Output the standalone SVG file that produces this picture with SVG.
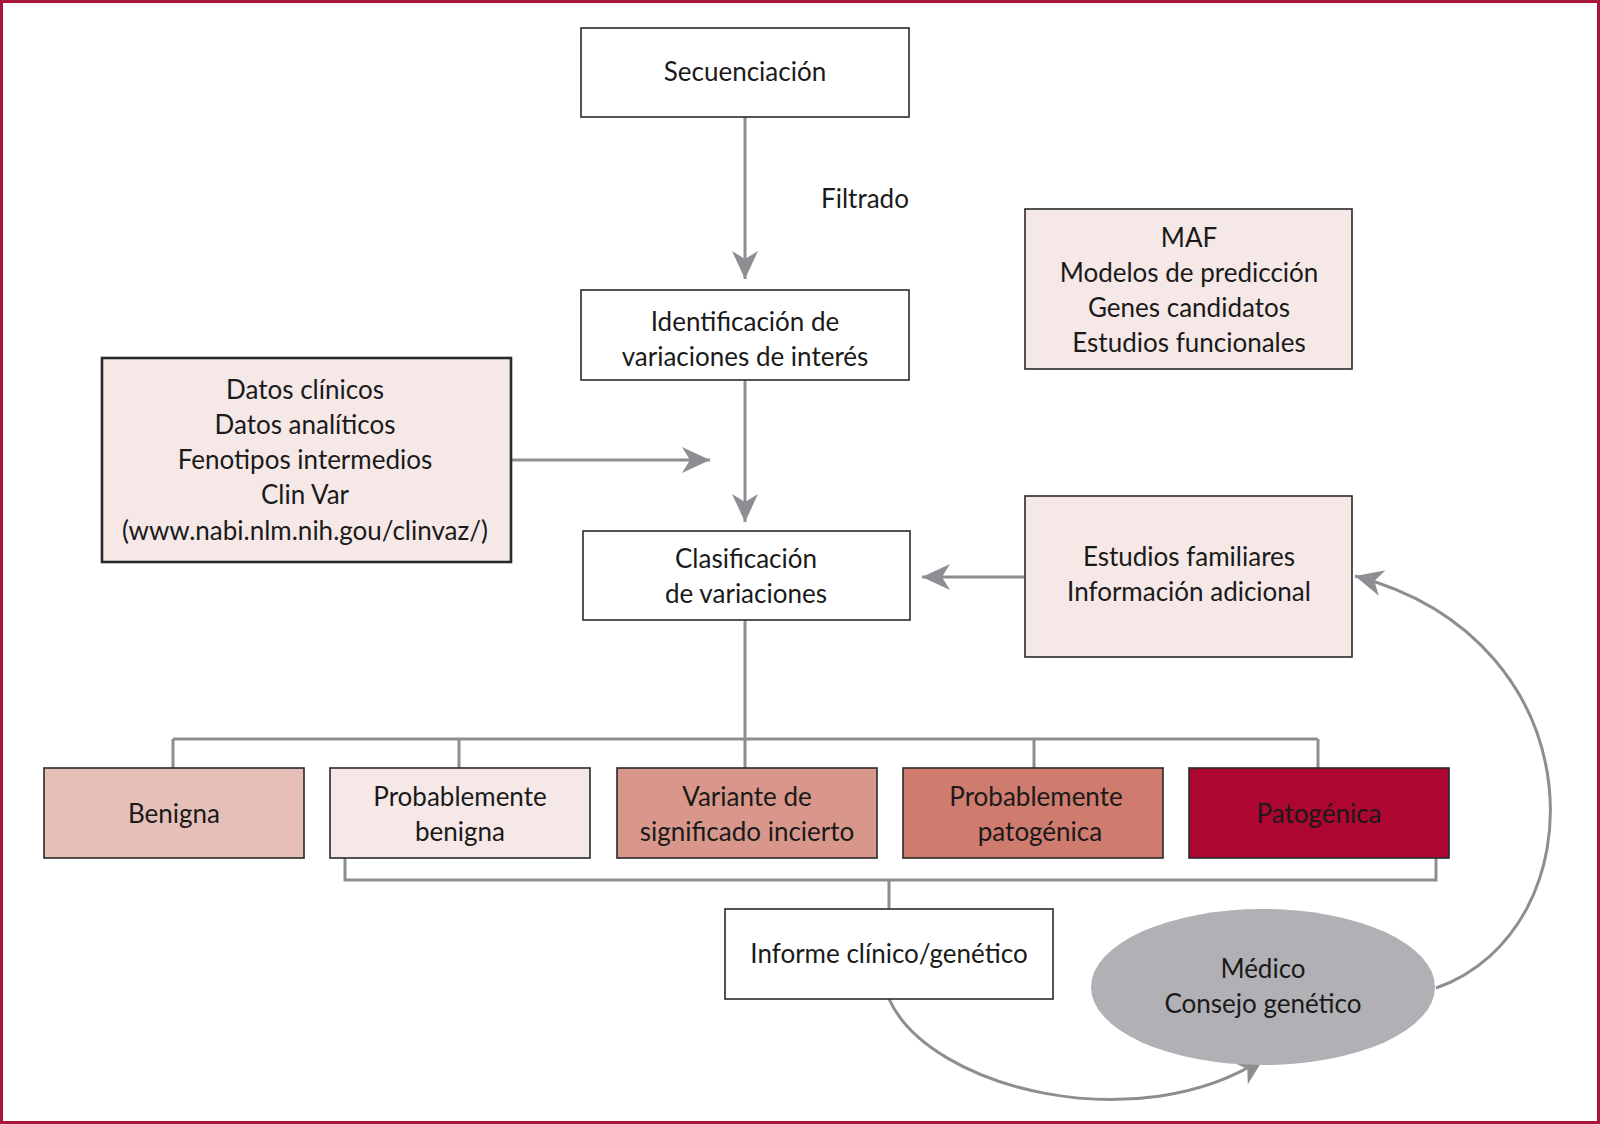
<svg xmlns="http://www.w3.org/2000/svg" width="1600" height="1124" viewBox="0 0 1600 1124">
<style>
text{font-family:Lato,"Open Sans","Liberation Sans",sans-serif;font-size:26px;fill:#1a1a1a;text-anchor:middle}
.box{stroke:#2a2a2a;stroke-width:1.6}
.w{fill:#ffffff}
.p{fill:#f5e8e7}
.c{fill:none;stroke:#8e8e92;stroke-width:3}
</style>
<defs>
<marker id="ah" markerUnits="userSpaceOnUse" markerWidth="30" markerHeight="28" refX="28" refY="13" orient="auto" viewBox="0 0 30 26">
<path d="M0,0 L28,13 L0,26 L8,13 z" fill="#8e8e92"/>
</marker>
</defs>
<rect x="1.5" y="1.5" width="1597" height="1121" fill="#ffffff" stroke="#a8163c" stroke-width="3"/>
<g id="connectors">
<line class="c" x1="745" y1="117" x2="745" y2="279" marker-end="url(#ah)"/>
<line class="c" x1="745" y1="380" x2="745" y2="522" marker-end="url(#ah)"/>
<line class="c" x1="511" y1="460" x2="710" y2="460" marker-end="url(#ah)"/>
<line class="c" x1="1024" y1="577" x2="922" y2="577" marker-end="url(#ah)"/>
<path class="c" d="M745,620 V739 M173,739 H1318 M173,739 V768 M459,739 V768 M745,739 V768 M1034,739 V768 M1318,739 V768"/>
<path class="c" d="M345,858 V880 H1436 V858 M889,880 V909"/>
<path class="c" d="M889,999 C930,1090 1140,1140 1264,1058" marker-end="url(#ah)"/>
<path class="c" d="M1436,988 C1600,930 1600,640 1355,576" marker-end="url(#ah)"/>
</g>
<g id="secuenciacion"><rect class="box w" x="581" y="28" width="328" height="89"/><text x="745" y="81">Secuenciación</text></g>
<text id="filtrado" x="865" y="208">Filtrado</text>
<g id="identificacion"><rect class="box w" x="581" y="290" width="328" height="90"/><text x="745" y="331">Identificación de</text><text x="745" y="366">variaciones de interés</text></g>
<g id="datos"><rect class="p" x="102" y="358" width="409" height="204" stroke="#2a2a2a" stroke-width="2.6"/>
<text x="305" y="399">Datos clínicos</text><text x="305" y="434">Datos analíticos</text><text x="305" y="469">Fenotipos intermedios</text><text x="305" y="504">Clin Var</text><text x="305" y="540">(www.nabi.nlm.nih.gou/clinvaz/)</text></g>
<g id="maf"><rect class="box p" x="1025" y="209" width="327" height="160"/>
<text x="1189" y="247">MAF</text><text x="1189" y="282">Modelos de predicción</text><text x="1189" y="317">Genes candidatos</text><text x="1189" y="352">Estudios funcionales</text></g>
<g id="clasificacion"><rect class="box w" x="583" y="531" width="327" height="89"/><text x="746" y="568">Clasificación</text><text x="746" y="603">de variaciones</text></g>
<g id="estudios"><rect class="box p" x="1025" y="496" width="327" height="161"/><text x="1189" y="566">Estudios familiares</text><text x="1189" y="601">Información adicional</text></g>
<g id="benigna"><rect class="box" fill="#e6bfb8" x="44" y="768" width="260" height="90"/><text x="174" y="823">Benigna</text></g>
<g id="prob-benigna"><rect class="box" fill="#f5e8e7" x="330" y="768" width="260" height="90"/><text x="460" y="806">Probablemente</text><text x="460" y="841">benigna</text></g>
<g id="variante"><rect class="box" fill="#d9978b" x="617" y="768" width="260" height="90"/><text x="747" y="806">Variante de</text><text x="747" y="841">significado incierto</text></g>
<g id="prob-patogenica"><rect class="box" fill="#cf7b6e" x="903" y="768" width="260" height="90"/><text x="1036" y="806">Probablemente</text><text x="1040" y="841">patogénica</text></g>
<g id="patogenica"><rect class="box" fill="#ad0631" x="1189" y="768" width="260" height="90"/><text x="1319" y="823">Patogénica</text></g>
<g id="informe"><rect class="box w" x="725" y="909" width="328" height="90"/><text x="889" y="963">Informe clínico/genético</text></g>
<g id="medico"><ellipse cx="1263" cy="987" rx="172" ry="78" fill="#b1b0b4"/><text x="1263" y="978">Médico</text><text x="1263" y="1013">Consejo genético</text></g>
</svg>
